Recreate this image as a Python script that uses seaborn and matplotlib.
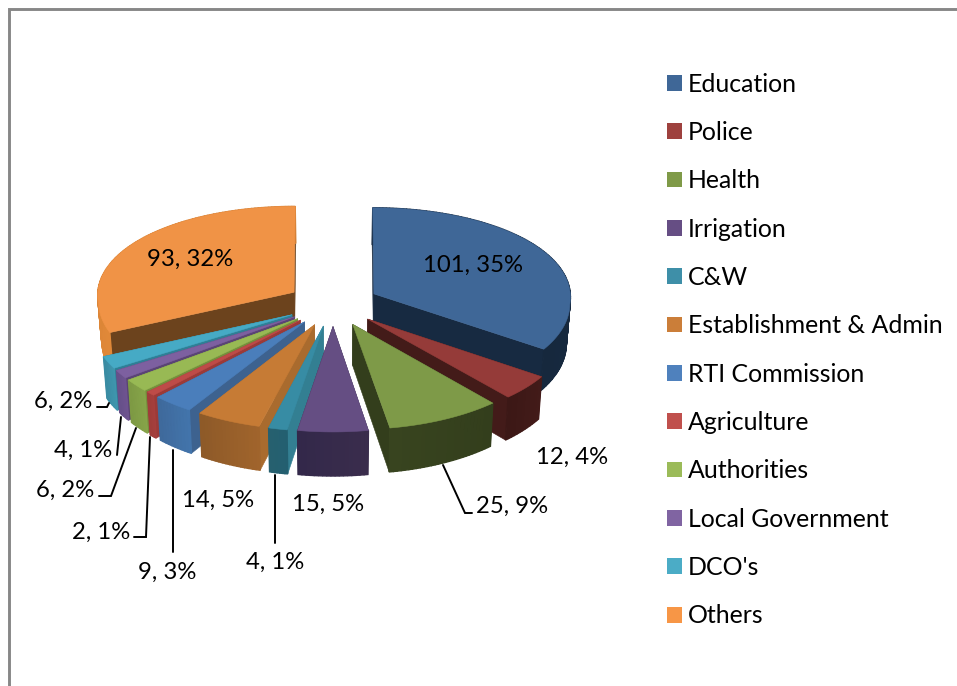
import numpy as np
import matplotlib
matplotlib.use("Agg")
import matplotlib.pyplot as plt
from matplotlib.patches import Patch, Polygon
import seaborn as sns

categories = ["Education", "Police", "Health", "Irrigation", "C&W",
              "Establishment & Admin", "RTI Commission", "Agriculture",
              "Authorities", "Local Government", "DCO's", "Others"]
counts = [101, 12, 25, 15, 4, 14, 9, 2, 6, 4, 6, 93]

top_colors = ["#3F6797", "#953B39", "#7E9A48", "#654E83", "#378CA4", "#C67B35",
              "#4A7EBB", "#BE4B48", "#98B954", "#7D60A0", "#46AAC5", "#F09346"]
legend_colors = ["#3F6797", "#9E413E", "#7F9A48", "#664E84", "#3E8FA8", "#CB7E39",
                 "#4F81BD", "#C0504D", "#9BBB59", "#8064A2", "#4BACC6", "#F79646"]
wall_start = ["#1A2E46", "#431B19", "#333E1C", "#3A2D4C", "#235F70", "#A0642C",
              "#4274AB", "#A63F3D", "#86A449", "#6E5390", "#3F96AE", "#E08838"]
wall_end = ["#16283D", "#3C1816", "#38441F", "#33284A", "#26606F", "#8E5A28",
            "#3F6A9C", "#A03D3A", "#7E9A44", "#67508A", "#3A8CA3", "#D27F34"]
radial_colors = ["#172A41", "#431B19", "#333E1C", "#352945", "#337F92", "#A96B2E",
                 "#3D628F", "#9C3A38", "#758F3C", "#5A4475", "#2F7F96", "#6C431D"]

# Projection of the tilted, exploded pie onto the canvas (pixels)
CX, CY = 333.0, 304.0
RX, RY = 197.0, 94.0
PERSPECTIVE_X_FAR = 0.03
PERSPECTIVE_X_NEAR = 0.085
PERSPECTIVE_Y = 0.075
DEPTH = 40.0
EXPLODE = 0.235
TAPER = 0.015


def project(x, y, z=0.0):
    kx = PERSPECTIVE_X_FAR if y > 0 else PERSPECTIVE_X_NEAR
    px = 1.0 / (1.0 + kx * y)
    py = 1.0 / (1.0 + PERSPECTIVE_Y * y)
    return (CX + RX * x * px * (1 - TAPER * z), CY - RY * y * py + DEPTH * z * py)


def blend(c0, c1, t):
    a = np.array(matplotlib.colors.to_rgb(c0))
    b = np.array(matplotlib.colors.to_rgb(c1))
    return tuple(a + (b - a) * t)


def draw_slice(ax, start, end, idx):
    mid = (start + end) / 2
    ox, oy = EXPLODE * np.sin(mid), EXPLODE * np.cos(mid)
    angles = np.linspace(start, end, max(int(np.degrees(end - start)), 8))
    rim = [(ox + np.sin(a), oy + np.cos(a)) for a in angles]
    apex = (ox, oy)

    # Cut faces first, then the curved rim wall, then the top surface
    for edge in (rim[0], rim[-1]):
        quad = [project(*apex), project(*edge), project(*edge, 1), project(*apex, 1)]
        ax.add_patch(Polygon(quad, fc=radial_colors[idx], ec=radial_colors[idx], lw=0.4))
    for i in range(len(rim) - 1):
        col = blend(wall_start[idx], wall_end[idx], i / max(len(rim) - 2, 1))
        quad = [project(*rim[i]), project(*rim[i + 1]),
                project(*rim[i + 1], 1), project(*rim[i], 1)]
        ax.add_patch(Polygon(quad, fc=col, ec=col, lw=1.0))
    face = [project(*apex)] + [project(*pt) for pt in rim]
    ax.add_patch(Polygon(face, fc=top_colors[idx], ec=top_colors[idx], lw=0.4))


sns.set_theme(style="white")
plt.rcParams["font.family"] = ["Lato", "DejaVu Sans"]

fig = plt.figure(figsize=(9.57, 6.86), dpi=100, facecolor="white")
ax = fig.add_axes([0, 0, 1, 1])
ax.set_xlim(0, 957)
ax.set_ylim(686, 0)
ax.axis("off")

# Chart frame, open towards the right and bottom edges
ax.plot([9.2, 9.2, 957], [686, 9.2, 9.2], color="#878787", lw=2.1, solid_joinstyle="miter")

values = np.array(counts, dtype=float)
total = values.sum()
edges = np.concatenate([[0], np.cumsum(values)]) / total * 2 * np.pi

# Far slices are painted before near ones
mids = (edges[:-1] + edges[1:]) / 2
order = np.argsort(-np.cos(mids))
for idx in order:
    draw_slice(ax, edges[idx], edges[idx + 1], idx)

labels = [f"{v}, {round(v / total * 100)}%" for v in counts]
label_pos = [(473, 265.5), (572, 457), (512, 506), (328, 504), (275, 562), (218, 500),
             (167, 572), (101, 532), (65, 490), (83, 450), (63, 401), (190, 259)]
for text, (lx, ly) in zip(labels, label_pos):
    ax.text(lx, ly, text, ha="center", va="center", fontsize=17.2, color="black")

# Leader lines for labels sitting outside their slices
leaders = [
    ([443, 465, 472], [465, 513, 513]),
    ([275, 275], [475, 543]),
    ([173, 173], [450, 552]),
    ([150, 146, 134], [437, 537, 537]),
    ([136, 111, 99], [428, 496, 496]),
    ([121, 117], [417, 455]),
    ([109, 107, 97], [403, 407, 407]),
]
for xs, ys in leaders:
    ax.plot(xs, ys, color="black", lw=1.4, solid_joinstyle="miter")

handles = [Patch(fc=c, ec=c, lw=0) for c in sns.color_palette(legend_colors)]
ax.legend(handles, categories, loc="upper left", bbox_to_anchor=(667 / 957, 1 - 72.5 / 686),
          frameon=False, fontsize=17.9, labelcolor="black", handlelength=0.6, handleheight=0.6,
          handletextpad=0.24, labelspacing=1.02, borderpad=0, borderaxespad=0)

fig.savefig("out.png", dpi=100)
